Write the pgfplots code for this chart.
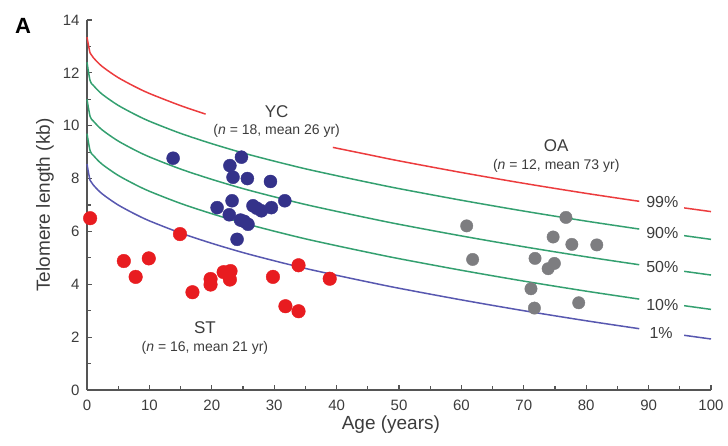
\documentclass[border=0pt]{standalone}
\usepackage{pgfplots}
\pgfplotsset{compat=1.18}
\usepackage{fontspec}
\setmainfont{Liberation Sans}
\definecolor{cred}{RGB}{236,60,62}
\definecolor{cgreen}{RGB}{52,160,112}
\definecolor{cblue}{RGB}{88,88,176}
\definecolor{dred}{RGB}{232,28,32}
\definecolor{dblue}{RGB}{52,50,138}
\definecolor{dgray}{RGB}{125,125,128}
\definecolor{axgray}{RGB}{85,85,85}
\definecolor{txt}{RGB}{60,60,60}
\begin{document}
\begin{tikzpicture}
\begin{axis}[
  scale only axis, width=624pt, height=370pt,
  at={(0,0)}, anchor=south west,
  xmin=0, xmax=100, ymin=0, ymax=14,
  axis x line*=bottom, axis y line*=left,
  axis line style={axgray, line width=1.3pt},
  xtick={0,10,...,100}, ytick={0,2,...,14},
  minor xtick={5,15,...,95}, minor ytick={1,3,...,13},
  tick align=inside,
  major tick length=5pt, minor tick length=4pt,
  every tick/.style={axgray, line width=1.1pt},
  /pgf/number format/assume math mode=true,
  tick label style={font=\fontsize{15}{17}\selectfont, text=txt},
  xticklabel style={yshift=-6pt},
  yticklabel style={xshift=-4pt},
  xlabel={Age (years)}, ylabel={Telomere length (kb)},
  label style={font=\fontsize{19}{22}\selectfont, text=txt},
  xlabel style={at={(axis description cs:0.487,-0.0946)}, anchor=center},
  ylabel style={at={(axis description cs:-0.0673,0.5)}, anchor=center},
  clip=false,
]
% 99% curve (red)
\addplot[cred, line width=1.5pt, smooth] coordinates {(0,13.35)(0.5,12.75)(1,12.58)(2,12.33)(3,12.14)(5,11.82)(7.5,11.5)(10,11.22)(15,10.76)(19,10.44)};
\addplot[cred, line width=1.5pt, smooth] coordinates {(39.4,9.18)(45,8.91)(50,8.67)(60,8.23)(70,7.82)(80,7.44)(88.5,7.14)};
\addplot[cred, line width=1.5pt] coordinates {(95.7,6.89)(100,6.75)};
% 90% curve
\addplot[cgreen, line width=1.5pt, smooth] coordinates {(0,12.4)(0.5,11.7)(1,11.53)(2,11.28)(3,11.09)(5,10.77)(7.5,10.45)(10,10.17)(15,9.71)(20,9.32)(25,8.97)(30,8.66)(35,8.37)(40,8.11)(45,7.86)(50,7.62)(60,7.18)(70,6.77)(80,6.39)(88.5,6.09)};
\addplot[cgreen, line width=1.5pt] coordinates {(95.7,5.84)(100,5.7)};
% 50% curve
\addplot[cgreen, line width=1.5pt, smooth] coordinates {(0,11.0)(0.5,10.35)(1,10.18)(2,9.93)(3,9.74)(5,9.42)(7.5,9.1)(10,8.82)(15,8.36)(20,7.97)(25,7.62)(30,7.31)(35,7.02)(40,6.76)(45,6.51)(50,6.27)(60,5.83)(70,5.42)(80,5.04)(88.5,4.74)};
\addplot[cgreen, line width=1.5pt] coordinates {(95.7,4.49)(100,4.35)};
% 10% curve
\addplot[cgreen, line width=1.5pt, smooth] coordinates {(0,9.7)(0.5,9.05)(1,8.88)(2,8.63)(3,8.44)(5,8.12)(7.5,7.8)(10,7.52)(15,7.06)(20,6.67)(25,6.32)(30,6.01)(35,5.72)(40,5.46)(45,5.21)(50,4.97)(60,4.53)(70,4.12)(80,3.74)(88.5,3.44)};
\addplot[cgreen, line width=1.5pt] coordinates {(95.7,3.19)(100,3.05)};
% 1% curve (blue)
\addplot[cblue, line width=1.5pt, smooth] coordinates {(0,8.55)(0.5,7.93)(1,7.76)(2,7.51)(3,7.32)(5,7.0)(7.5,6.68)(10,6.4)(15,5.94)(20,5.55)(25,5.2)(30,4.89)(35,4.6)(40,4.34)(45,4.09)(50,3.85)(60,3.41)(70,3.0)(80,2.62)(88.5,2.32)};
\addplot[cblue, line width=1.5pt] coordinates {(95.7,2.07)(100,1.93)};
% ST (red dots)
\addplot[only marks, mark=*, mark size=6.8pt, dred, mark options={draw=dred, fill=dred}] coordinates {
(0.5,6.5)(5.9,4.88)(7.8,4.28)(9.9,4.98)(14.9,5.9)(16.9,3.7)(19.8,4.2)(19.8,3.99)
(21.9,4.46)(23.0,4.5)(22.9,4.18)(29.8,4.28)(31.8,3.17)(33.9,4.72)(33.9,2.98)(38.9,4.21)};
% YC (blue dots)
\addplot[only marks, mark=*, mark size=6.5pt, dblue, mark options={draw=dblue, fill=dblue}] coordinates {
(13.8,8.77)(24.75,8.81)(22.9,8.49)(23.4,8.05)(25.7,8.0)(29.4,7.89)(23.25,7.16)(20.85,6.9)
(22.8,6.63)(24.6,6.43)(25.8,6.27)(25.2,6.38)(26.6,6.97)(27.2,6.88)(27.95,6.78)(29.55,6.9)(31.7,7.16)(24.05,5.7)};
% OA (gray dots)
\addplot[only marks, mark=*, mark size=6.2pt, dgray, mark options={draw=dgray, fill=dgray}] coordinates {
(60.85,6.21)(61.8,4.94)(76.75,6.53)(74.7,5.79)(77.7,5.51)(81.7,5.49)(71.8,4.98)(74.9,4.79)
(73.9,4.59)(71.15,3.83)(78.8,3.3)(71.7,3.1)};
% group labels
\node[text=txt, font=\fontsize{17}{19}\selectfont] at (axis cs:30.4,10.55) {YC};
\node[text=txt, font=\fontsize{14}{16}\selectfont] at (axis cs:30.4,9.8) {(\textit{n} = 18, mean 26 yr)};
\node[text=txt, font=\fontsize{17}{19}\selectfont] at (axis cs:75.2,9.24) {OA};
\node[text=txt, font=\fontsize{14}{16}\selectfont] at (axis cs:75.2,8.48) {(\textit{n} = 12, mean 73 yr)};
\node[text=txt, font=\fontsize{17}{19}\selectfont] at (axis cs:18.9,2.36) {ST};
\node[text=txt, font=\fontsize{14}{16}\selectfont] at (axis cs:18.9,1.6) {(\textit{n} = 16, mean 21 yr)};
% percentile labels
\node[text=txt, font=\fontsize{16}{18}\selectfont] at (axis cs:92.2,7.1) {99\%};
\node[text=txt, font=\fontsize{16}{18}\selectfont] at (axis cs:92.2,5.93) {90\%};
\node[text=txt, font=\fontsize{16}{18}\selectfont] at (axis cs:92.2,4.64) {50\%};
\node[text=txt, font=\fontsize{16}{18}\selectfont] at (axis cs:92.2,3.23) {10\%};
\node[text=txt, font=\fontsize{16}{18}\selectfont] at (axis cs:92.0,2.17) {1\%};
\node[font=\fontsize{22}{24}\selectfont\bfseries] at (axis description cs:-0.1026,0.984) {A};
\end{axis}
\pgfresetboundingbox
\path (-87pt,-55pt) rectangle (641pt,390pt);
\end{tikzpicture}
\end{document}
